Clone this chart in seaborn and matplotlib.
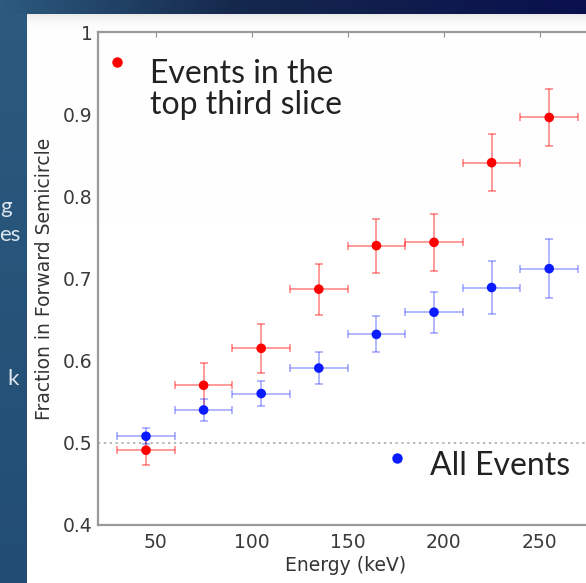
import numpy as np
import pandas as pd
import matplotlib
matplotlib.use("Agg")
import matplotlib.pyplot as plt
import seaborn as sns

# Energy bins (keV) – bin centres and half widths
energy = [45, 75, 105, 135, 165, 195, 225, 255]
energy_halfwidth = [15, 15, 15, 15, 15, 15, 15, 15]

# Fraction of events in the forward semicircle, top third slice
top_frac = [0.491, 0.570, 0.615, 0.687, 0.740, 0.744, 0.841, 0.896]
top_err = [0.018, 0.027, 0.030, 0.031, 0.033, 0.035, 0.035, 0.035]

# Fraction of events in the forward semicircle, all events
all_frac = [0.508, 0.540, 0.560, 0.591, 0.632, 0.659, 0.689, 0.712]
all_err = [0.010, 0.013, 0.015, 0.019, 0.022, 0.025, 0.032, 0.036]

y_ticks = [0.4, 0.5, 0.6, 0.7, 0.8, 0.9, 1.0]
x_ticks = [50, 100, 150, 200, 250]

RED = "#ff0000"
BLUE = "#0a1cff"

sns.set_style("white")
plt.rcParams["font.family"] = ["DejaVu Sans"]

W, H = 586, 583
fig = plt.figure(figsize=(W / 100, H / 100), dpi=100)


def fx(px):
    return px / W


def fy(py):
    return 1 - py / H


# ---- slide background -------------------------------------------------
bg = fig.add_axes([0, 0, 1, 1], zorder=-10)
bg.set_axis_off()
img = np.ones((H, W, 3))
xs = np.linspace(0, 1, W)[None, :, None]
ys = np.linspace(0, 1, H)[:, None, None]
c_left = np.array([0x2c, 0x5b, 0x7f]) / 255
c_mid = np.array([0x15, 0x28, 0x4c]) / 255
c_right = np.array([0x0a, 0x10, 0x4e]) / 255
top_band = np.where(xs < 0.4,
                    c_left + (c_mid - c_left) * (xs / 0.4),
                    c_mid + (c_right - c_mid) * ((xs - 0.4) / 0.6))
strip_bot = np.array([0x22, 0x4c, 0x74]) / 255
left_strip = c_left + (strip_bot - c_left) * ys
img[:, :, :] = np.broadcast_to(left_strip, (H, W, 3))
img[:14, :, :] = np.broadcast_to(top_band, (1, W, 3))
# white panel with a faint shade along its top edge
panel = np.ones((H - 14, W - 27, 3))
shade = np.exp(-np.arange(H - 14) / 6.0)[:, None, None] * 0.08
panel = panel - shade
img[14:, 27:, :] = panel
bg.imshow(img, extent=[0, 1, 0, 1], aspect="auto", interpolation="bilinear")
bg.set_xlim(0, 1)
bg.set_ylim(0, 1)

# fragments of slide text at the left edge
for s, px, py in [("g", 12, 213), ("es", 21, 241), ("k", 19, 385)]:
    fig.text(fx(px), fy(py), s, ha="right", va="baseline", fontsize=16,
             color="#dde5ee", family=["Lato", "DejaVu Sans"])

# ---- data axes --------------------------------------------------------
left_px, bottom_px, top_px = 98, 525, 32
xmin, xmax = 20, 300
px_per_unit = 1.92
ax_w_px = (xmax - xmin) * px_per_unit
ax = fig.add_axes([fx(left_px), fy(bottom_px), ax_w_px / W,
                   (bottom_px - top_px) / H])
ax.set_facecolor("none")

ax.axhline(0.5, color="#b8b8b8", lw=1.4, ls=(0, (1.2, 1.8)), zorder=1)

df_top = pd.DataFrame({"energy": energy, "frac": top_frac})
df_all = pd.DataFrame({"energy": energy, "frac": all_frac})

ax.errorbar(energy, top_frac, yerr=top_err, xerr=energy_halfwidth,
            fmt="none", ecolor=RED, elinewidth=1.1, capsize=3,
            capthick=1.1, alpha=0.5, zorder=2)
sns.scatterplot(data=df_top, x="energy", y="frac", ax=ax, color=RED,
                s=48, edgecolor="none", zorder=3, legend=False)
ax.errorbar(energy, all_frac, yerr=all_err, xerr=energy_halfwidth,
            fmt="none", ecolor=BLUE, elinewidth=1.1, capsize=3,
            capthick=1.1, alpha=0.4, zorder=4)
sns.scatterplot(data=df_all, x="energy", y="frac", ax=ax, color=BLUE,
                s=48, edgecolor="none", zorder=5, legend=False)

ax.set_xlim(xmin, xmax)
ax.set_ylim(0.4, 1.0)
ax.set_xticks(x_ticks)
ax.set_yticks(y_ticks)
ax.set_yticklabels([f"{v:g}" for v in y_ticks])
ax.tick_params(axis="both", direction="in", length=3.5, width=0.8,
               color="#8a8a8a", labelsize=13.5, labelcolor="#3a3a3a",
               top=True, right=True)
ax.tick_params(axis="x", pad=6)
ax.tick_params(axis="y", pad=4)
for sp in ax.spines.values():
    sp.set_color("#9a9a9a")
    sp.set_linewidth(1.6)
    sp.set_visible(True)

ax.set_xlabel("Energy (keV)", fontsize=13.5, color="#333333", labelpad=1)
ax.xaxis.set_label_coords((346 - left_px) / ax_w_px, -0.062)
ax.set_ylabel("Fraction in Forward Semicircle", fontsize=13.5,
              color="#333333", labelpad=6)

# ---- slide annotations acting as a legend -----------------------------
note_font = ["Lato", "DejaVu Sans"]
fig.add_artist(plt.Line2D([fx(117)], [fy(62)], marker="o", ms=7.5,
                          color=RED, mec="none", ls="none"))
fig.text(fx(150), fy(83), "Events in the", fontsize=23, color="#222222",
         family=note_font, va="baseline", ha="left")
fig.text(fx(150), fy(114), "top third slice", fontsize=23, color="#222222",
         family=note_font, va="baseline", ha="left")
fig.add_artist(plt.Line2D([fx(397)], [fy(458)], marker="o", ms=7.5,
                          color=BLUE, mec="none", ls="none"))
fig.text(fx(430), fy(475), "All Events", fontsize=23, color="#222222",
         family=note_font, va="baseline", ha="left")

fig.savefig("out.png", dpi=100)
